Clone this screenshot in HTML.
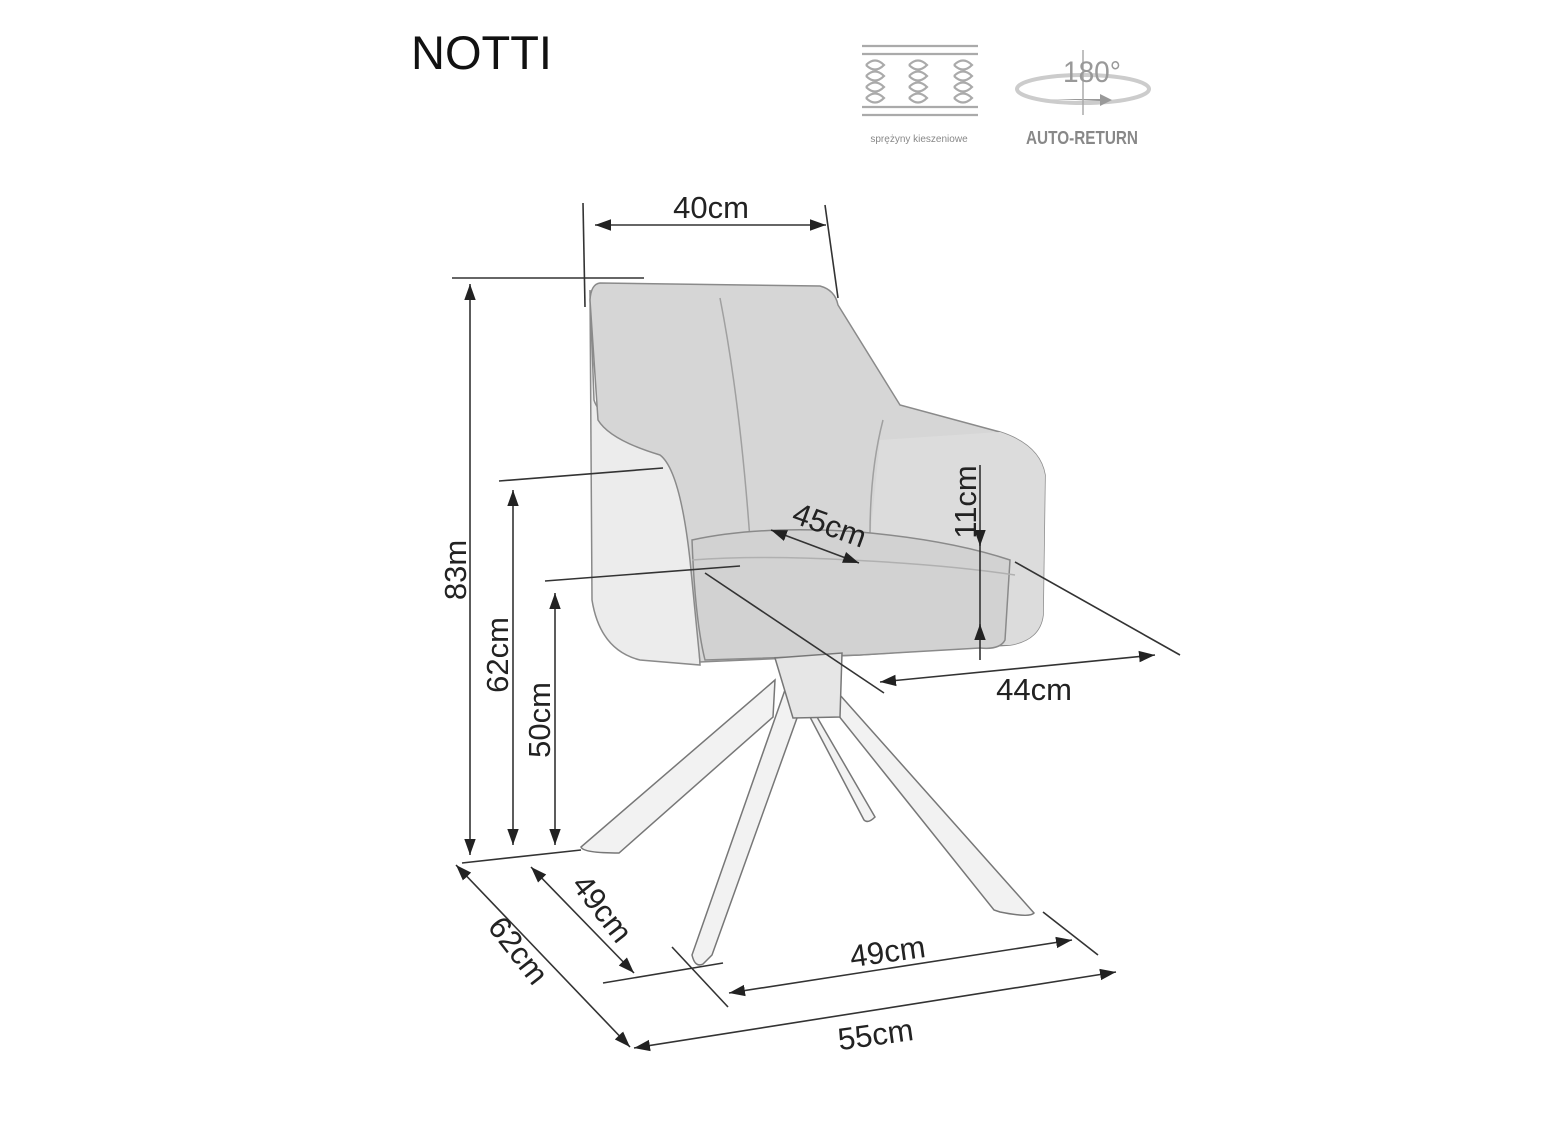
<!DOCTYPE html>
<html><head><meta charset="utf-8"><style>
html,body{margin:0;padding:0;background:#fff;}
svg{display:block}
text{font-family:"Liberation Sans",sans-serif}
</style></head><body>
<svg width="1560" height="1132" viewBox="0 0 1560 1132" xmlns="http://www.w3.org/2000/svg">
<defs>
<marker id="b" viewBox="0 0 14 10" refX="14" refY="5" markerWidth="16" markerHeight="12" markerUnits="userSpaceOnUse" orient="auto-start-reverse">
<path d="M0,0 L14,5 L0,10 z" fill="#222"/>
</marker>
</defs>

<text x="411" y="69" font-size="47" style="fill:#111">NOTTI</text>

<g stroke="#aaa" stroke-width="2.2" fill="none">
<line x1="862" y1="46" x2="978" y2="46"/><line x1="862" y1="54" x2="978" y2="54"/>
<line x1="862" y1="107" x2="978" y2="107"/><line x1="862" y1="115" x2="978" y2="115"/>
<g id="sp"><path d="M866,65 q9,-9 18,0 q-9,9 -18,0 M866,76 q9,-9 18,0 q-9,9 -18,0 M866,87 q9,-9 18,0 q-9,9 -18,0 M866,98 q9,-9 18,0 q-9,9 -18,0"/></g>
<use href="#sp" x="43"/><use href="#sp" x="88"/>
</g>
<text x="919" y="142" font-size="10" style="fill:#888" text-anchor="middle">sprężyny kieszeniowe</text>

<ellipse cx="1083" cy="89" rx="66" ry="14" fill="none" stroke="#ccc" stroke-width="4"/>
<path d="M1050,99 L1100,99 L1100,94 L1112,100 L1100,106 L1100,101 Z" fill="#999"/>
<line x1="1083" y1="50" x2="1083" y2="115" stroke="#aaa" stroke-width="1.5"/>
<text x="1092" y="82" font-size="30" style="fill:#999" text-anchor="middle" textLength="58" lengthAdjust="spacingAndGlyphs">180°</text>
<text x="1082" y="144" font-size="18" font-weight="bold" style="fill:#888" text-anchor="middle" textLength="112" lengthAdjust="spacingAndGlyphs">AUTO-RETURN</text>

<g stroke="#8a8a8a" stroke-width="1.5">
<path d="M590,290 L592,600 Q600,650 640,660 L700,665 L690,470 Q670,440 640,430 Q600,420 594,400 Z" fill="#ececec"/>
<path d="M600,283 L820,286 Q835,290 838,305 L900,405 L1000,432 Q1040,445 1045,475 L1043,615 Q1040,640 1010,645 L860,655 L700,662 L690,560 Q680,470 660,455 Q610,440 598,420 L590,300 Q591,284 600,283 Z" fill="#d6d6d6"/>
<path d="M880,440 L1000,432 Q1040,445 1045,475 L1043,615 Q1040,640 1010,645 L990,645 L995,560 Q960,545 870,540 Z" fill="#dcdcdc" stroke="none"/>
<path d="M720,298 Q740,400 750,540" fill="none" stroke="#a0a0a0"/>
<path d="M883,420 Q870,470 870,535" fill="none" stroke="#a0a0a0"/>
<path d="M692,540 Q760,525 860,532 Q950,540 1010,560 L1005,640 Q1000,650 980,648 L860,655 L705,660 Q695,620 692,540 Z" fill="#d2d2d2"/>
<path d="M692,560 Q760,555 850,560 Q950,565 1015,575" fill="none" stroke="#b0b0b0"/>
</g>

<g stroke="#777" stroke-width="1.5" fill="#f2f2f2">
<path d="M775,680 L581,847 Q583,853 619,853 L773,717 Z"/>
<path d="M810,717 L864,820 Q868,824 875,817 L817,717 Z"/>
<path d="M815,667 L1034,913 Q1030,918 1000,912 L994,910 L810,680 Z"/>
<path d="M786,687 L692,955 Q695,968 703,964 L712,955 L797,718 Z"/>
<path d="M775,658 L842,653 L840,717 L793,718 Z" fill="#e6e6e6"/>
</g>

<g stroke="#333" stroke-width="1.6" fill="none">
<line x1="583" y1="203" x2="585" y2="307"/>
<line x1="825" y1="205" x2="838" y2="298"/>
<line x1="595" y1="225" x2="826" y2="225" marker-start="url(#b)" marker-end="url(#b)"/>
<line x1="452" y1="278" x2="644" y2="278"/>
<line x1="470" y1="284" x2="470" y2="855" marker-start="url(#b)" marker-end="url(#b)"/>
<line x1="499" y1="481" x2="663" y2="468"/>
<line x1="513" y1="490" x2="513" y2="845" marker-start="url(#b)" marker-end="url(#b)"/>
<line x1="545" y1="581" x2="740" y2="566"/>
<line x1="555" y1="593" x2="555" y2="845" marker-start="url(#b)" marker-end="url(#b)"/>
<line x1="462" y1="863" x2="581" y2="850"/>
<line x1="771" y1="530" x2="859" y2="563" marker-start="url(#b)" marker-end="url(#b)"/>
<line x1="980" y1="465" x2="980" y2="660"/>
<line x1="980" y1="530" x2="980" y2="546" marker-end="url(#b)"/>
<line x1="980" y1="640" x2="980" y2="624" marker-end="url(#b)"/>
<line x1="705" y1="573" x2="884" y2="693"/>
<line x1="1015" y1="562" x2="1180" y2="655"/>
<line x1="880" y1="682" x2="1155" y2="655" marker-start="url(#b)" marker-end="url(#b)"/>
<line x1="456" y1="865" x2="630" y2="1047" marker-start="url(#b)" marker-end="url(#b)"/>
<line x1="531" y1="867" x2="634" y2="973" marker-start="url(#b)" marker-end="url(#b)"/>
<line x1="603" y1="983" x2="723" y2="963"/>
<line x1="672" y1="947" x2="728" y2="1007"/>
<line x1="1043" y1="912" x2="1098" y2="955"/>
<line x1="729" y1="993" x2="1072" y2="940" marker-start="url(#b)" marker-end="url(#b)"/>
<line x1="634" y1="1048" x2="1116" y2="972" marker-start="url(#b)" marker-end="url(#b)"/>
</g>

<g font-size="31" style="fill:#222">
<text x="711" y="218" text-anchor="middle">40cm</text>
<text transform="translate(466,570) rotate(-90)" text-anchor="middle">83m</text>
<text transform="translate(508,655) rotate(-90)" text-anchor="middle">62cm</text>
<text transform="translate(550,720) rotate(-90)" text-anchor="middle">50cm</text>
<text transform="translate(826,535) rotate(20)" text-anchor="middle">45cm</text>
<text transform="translate(976,502) rotate(-90)" text-anchor="middle">11cm</text>
<text x="1034" y="700" text-anchor="middle">44cm</text>
<text transform="translate(510,957) rotate(52)" text-anchor="middle">62cm</text>
<text transform="translate(594,915) rotate(52)" text-anchor="middle">49cm</text>
<text transform="translate(889,962) rotate(-8)" text-anchor="middle">49cm</text>
<text transform="translate(877,1045) rotate(-8)" text-anchor="middle">55cm</text>
</g>
</svg>
</body></html>
